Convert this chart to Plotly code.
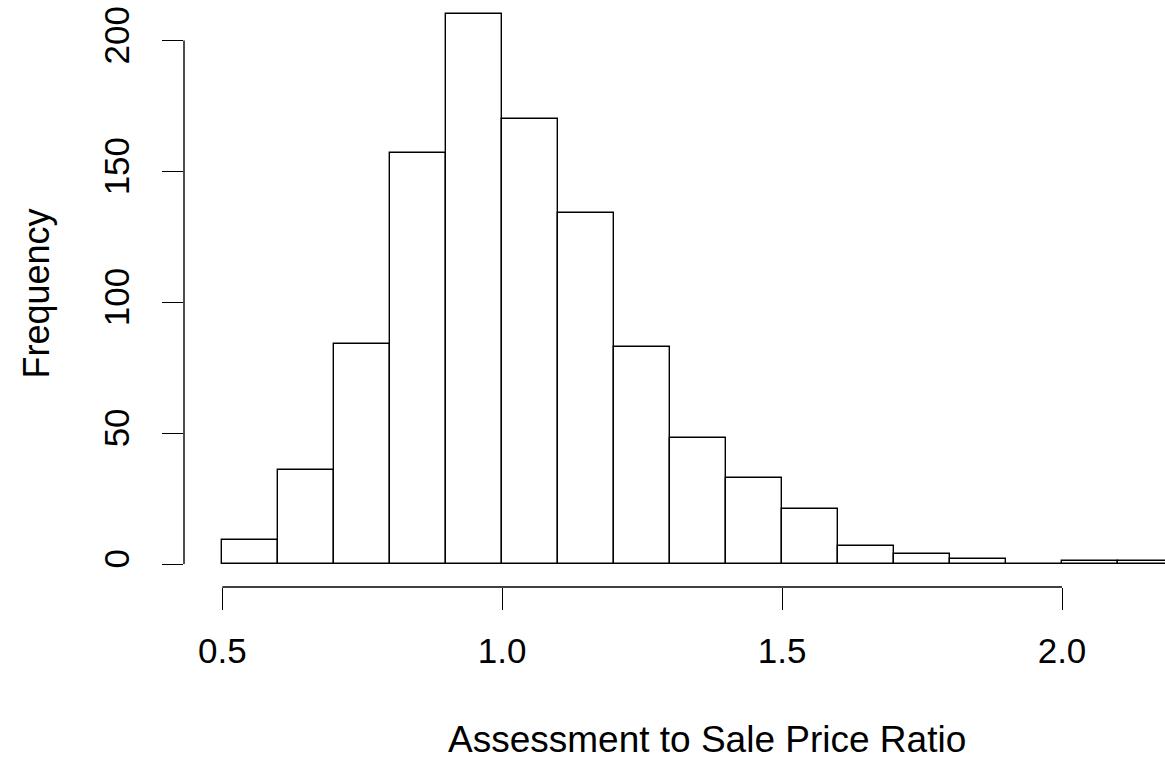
import plotly.graph_objects as go

# Histogram data (bin left edges, bin width, counts)
bin_left = [0.5, 0.6, 0.7, 0.8, 0.9, 1.0, 1.1, 1.2, 1.3, 1.4, 1.5, 1.6, 1.7, 1.8, 1.9, 2.0, 2.1]
bin_width = 0.1
counts = [9, 36, 84, 157, 210, 170, 134, 83, 48, 33, 21, 7, 4, 2, 0, 1, 1]

x_ticks = [0.5, 1.0, 1.5, 2.0]
x_tick_labels = ["0.5", "1.0", "1.5", "2.0"]
y_ticks = [0, 50, 100, 150, 200]
y_tick_labels = ["0", "50", "100", "150", "200"]

x_title = "Assessment to Sale Price Ratio"
y_title = "Frequency"

FONT = "Liberation Sans, Arial, Helvetica, sans-serif"
LW = 1.4

centers = [b + bin_width / 2 for b in bin_left]

fig = go.Figure()
fig.add_trace(go.Bar(
    x=centers, y=counts, width=[bin_width] * len(counts),
    marker=dict(color="white", line=dict(color="black", width=LW)),
    showlegend=False, hoverinfo="skip",
))

fig.update_layout(
    width=1165, height=758,
    margin=dict(l=184, r=0, t=0, b=171, pad=0),
    paper_bgcolor="white", plot_bgcolor="white",
    font=dict(family=FONT, size=35, color="black"),
    bargap=0,
    xaxis=dict(
        range=[0.4316, 2.184], showgrid=False, zeroline=False, showline=False,
        automargin=False,
        tickmode="array", tickvals=x_ticks, ticktext=x_tick_labels,
        ticks="outside", ticklen=22, tickwidth=LW, tickcolor="black",
        tickfont=dict(size=35, family=FONT, color="black"),
        ticklabelstandoff=11,
    ),
    yaxis=dict(
        range=[-8.79, 215.5], showgrid=False, zeroline=False, showline=False,
        automargin=False,
        tickmode="array", tickvals=y_ticks, ticktext=y_tick_labels,
        ticks="outside", ticklen=21, tickwidth=LW, tickcolor="black",
        tickangle=-90,
        tickfont=dict(size=35, family=FONT, color="black"),
        ticklabelstandoff=19,
    ),
    shapes=[
        dict(type="line", xref="paper", yref="y", x0=0, x1=0, y0=y_ticks[0], y1=y_ticks[-1],
             line=dict(color="black", width=LW)),
        dict(type="line", xref="x", yref="paper", x0=x_ticks[0], x1=x_ticks[-1], y0=0, y1=0,
             line=dict(color="black", width=LW)),
    ],
    annotations=[
        dict(text=x_title, xref="paper", yref="paper", x=(707 - 184) / 981, y=-(739 - 587) / 587,
             xanchor="center", yanchor="middle", showarrow=False, height=36, valign="middle",
             font=dict(size=37, family=FONT, color="black")),
        dict(text=y_title, xref="paper", yref="paper", x=-(184 - 36) / 981, y=0.5,
             xanchor="center", yanchor="middle", showarrow=False, textangle=-90,
             font=dict(size=36, family=FONT, color="black")),
    ],
)

fig.write_html("out.html", config={"displayModeBar": False},
               post_script="document.body.style.margin='0';")
